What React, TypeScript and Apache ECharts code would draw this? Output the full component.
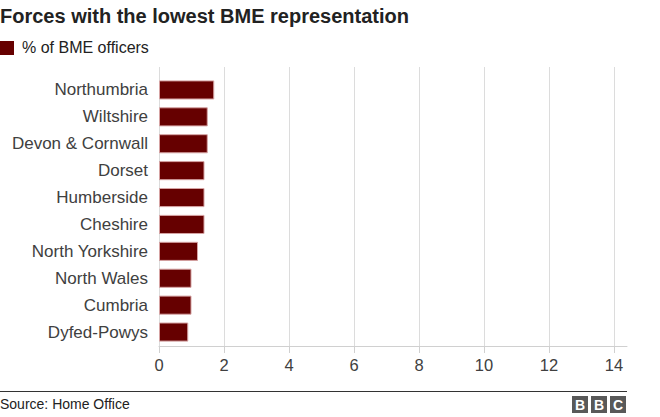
import React, { useEffect, useRef } from "react";
import * as echarts from "echarts";

const title = "Forces with the lowest BME representation";
const seriesName = "% of BME officers";
const categories = [
  "Northumbria",
  "Wiltshire",
  "Devon & Cornwall",
  "Dorset",
  "Humberside",
  "Cheshire",
  "North Yorkshire",
  "North Wales",
  "Cumbria",
  "Dyfed-Powys",
];
const values = [1.7, 1.5, 1.5, 1.4, 1.4, 1.4, 1.2, 1.0, 1.0, 0.9];
const xMin = 0;
const xMax = 14.4;
const xInterval = 2;
const source = "Source: Home Office";

const FONT = "'Liberation Sans', Arial, Helvetica, sans-serif";
const TXT = "#404040";

export default function App() {
  const ref = useRef<HTMLDivElement>(null);
  useEffect(() => {
    const chart = echarts.init(ref.current!, null, { renderer: "svg" });
    const labelFmt = (v: number) => (v % xInterval === 0 ? String(v) : "");
    chart.setOption({
      animation: false,
      backgroundColor: "#ffffff",
      textStyle: { fontFamily: FONT },
      grid: [
        { left: 159, right: 33, top: 67, bottom: 71, containLabel: false },
        { left: 159, right: 33, top: 76.5, bottom: 71.5, containLabel: false },
      ],
      xAxis: [
        {
          gridIndex: 0,
          type: "value",
          min: xMin,
          max: xMax,
          interval: xInterval,
          axisLine: { show: true, lineStyle: { color: "#d0d0d0", width: 1 } },
          axisTick: { show: true, length: 7, lineStyle: { color: "#d0d0d0" } },
          axisLabel: {
            formatter: labelFmt,
            color: TXT,
            fontSize: 16.5,
            fontFamily: FONT,
            margin: 10,
            showMaxLabel: false,
          },
          splitLine: { show: true, showMaxLine: false, lineStyle: { color: "#dcdcdc", width: 1 } },
        },
        {
          gridIndex: 1,
          type: "value",
          min: xMin,
          max: xMax,
          interval: xInterval,
          show: false,
        },
      ],
      yAxis: [
        { gridIndex: 0, type: "value", show: false, min: 0, max: 1 },
        {
          gridIndex: 1,
          type: "category",
          data: categories,
          inverse: true,
          axisLine: { show: false },
          axisTick: { show: false },
          axisLabel: { color: TXT, fontSize: 17, fontFamily: FONT, margin: 11 },
          splitLine: { show: false },
        },
      ],
      graphic: [
        {
          type: "text",
          left: 0,
          top: 6,
          style: { text: title, font: `bold 20px ${FONT}`, fill: "#222222" },
        },
        {
          type: "rect",
          shape: { x: 0, y: 41, width: 14, height: 14 },
          style: { fill: "#660000" },
        },
        {
          type: "text",
          left: 22,
          top: 39,
          style: { text: seriesName, font: `16px ${FONT}`, fill: "#222222" },
        },
        {
          type: "line",
          shape: { x1: 0, y1: 391.5, x2: 627, y2: 391.5 },
          style: { stroke: "#333333", lineWidth: 1 },
        },
        {
          type: "text",
          left: 0,
          top: 397,
          style: { text: source, font: `14px ${FONT}`, fill: "#222222" },
        },
        {
          type: "group",
          left: 572,
          top: 396,
          children: ["B", "B", "C"].map((ch, i) => ({
            type: "group",
            x: i * 19,
            children: [
              { type: "rect", shape: { x: 0, y: 0, width: 16, height: 17 }, style: { fill: "#595959" } },
              {
                type: "text",
                x: 8,
                y: 9,
                style: {
                  text: ch,
                  font: `bold 14px ${FONT}`,
                  fill: "#ffffff",
                  align: "center",
                  verticalAlign: "middle",
                },
              },
            ],
          })),
        },
      ],
      series: [
        {
          type: "bar",
          name: seriesName,
          xAxisIndex: 1,
          yAxisIndex: 1,
          data: values,
          barCategoryGap: "29%",
          itemStyle: { color: "#660000", borderColor: "#d6a3a3", borderWidth: 1 },
        },
      ],
    });
    return () => chart.dispose();
  }, []);
  return <div ref={ref} style={{ width: 660, height: 417, position: "absolute", left: 0, top: 0 }} />;
}
